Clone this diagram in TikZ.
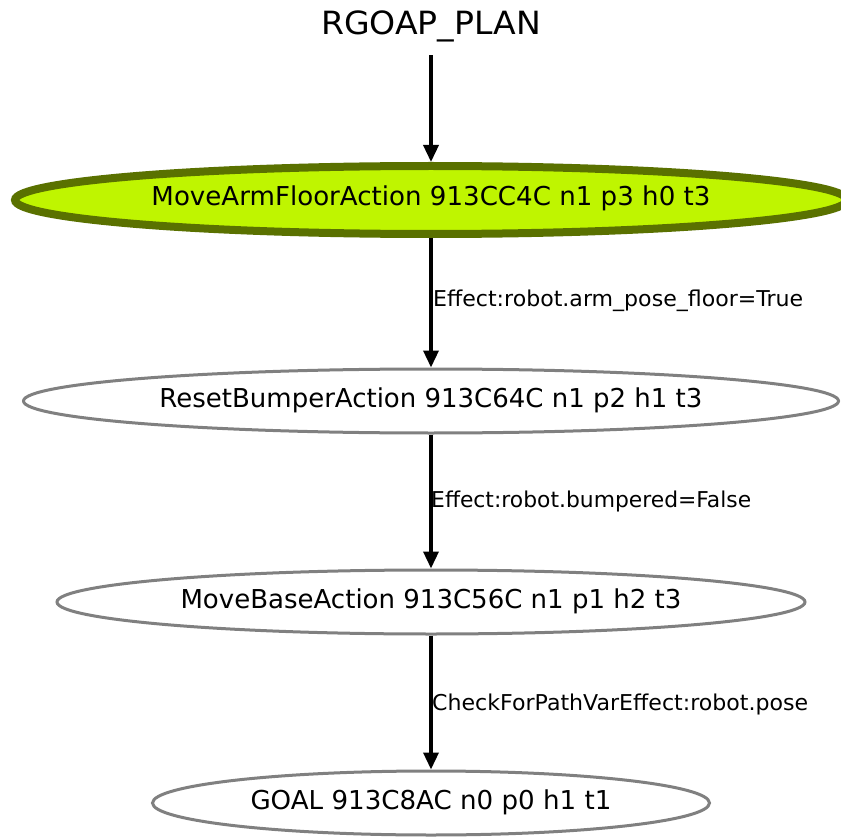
\documentclass[tikz,border=0pt]{standalone}
\usepackage{fontspec}
\setmainfont{DejaVu Sans}
\usetikzlibrary{shapes.geometric,arrows.meta}
\definecolor{limefill}{HTML}{BFF500}
\definecolor{oliveborder}{HTML}{5A7100}
\definecolor{grayborder}{HTML}{808080}
\newcommand{\ntext}[2]{\resizebox{#1}{\height}{\fontsize{26}{30}\selectfont #2}}
\newcommand{\ltext}[2]{\resizebox{#1}{\height}{\fontsize{21.8}{26}\selectfont #2}}
\begin{document}
\begin{tikzpicture}[x=1pt,y=-1pt,
  statenode/.style={ellipse, draw=grayborder, line width=3pt, fill=white, inner sep=0pt,
    text height=15pt, text depth=3pt},
  activenode/.style={statenode, draw=oliveborder, fill=limefill, line width=8pt},
  edgearrow/.style={draw=black, line width=3.5pt, -{Triangle[length=17pt,width=15pt]}},
  lbl/.style={anchor=base west, inner sep=0pt}]
\useasboundingbox (0,0) rectangle (841,837);
\clip (0,0) rectangle (841,837);
\fill[white] (0,0) rectangle (841,837);

\node[anchor=base, inner sep=0pt, text depth=0pt] (title) at (431,35)
  {\resizebox{220pt}{\height}{\fontsize{32}{38}\selectfont RGOAP\_PLAN}};

\node[activenode, minimum width=832pt, minimum height=68pt] (n1) at (431,200)
  {\ntext{559pt}{MoveArmFloorAction 913CC4C n1 p3 h0 t3}};
\node[statenode, minimum width=815pt, minimum height=64pt] (n2) at (431,401)
  {\ntext{543pt}{ResetBumperAction 913C64C n1 p2 h1 t3}};
\node[statenode, minimum width=748pt, minimum height=64pt] (n3) at (431,602)
  {\ntext{501pt}{MoveBaseAction 913C56C n1 p1 h2 t3}};
\node[statenode, minimum width=557pt, minimum height=64pt] (n4) at (431,803)
  {\ntext{361pt}{GOAL 913C8AC n0 p0 h1 t1}};

\draw[edgearrow, shorten <=20pt] (title.south) -- (n1.north);
\draw[edgearrow] (n1.south) -- (n2.north);
\draw[edgearrow] (n2.south) -- (n3.north);
\draw[edgearrow] (n3.south) -- (n4.north);

\node[lbl] (l1) at (433,307) {\ltext{370pt}{Effect:robot.arm\_pose\_floor=True}};
\node[lbl] (l2) at (431,507.5) {\ltext{320pt}{Effect:robot.bumpered=False}};
\node[lbl] (l3) at (432,710) {\ltext{376pt}{CheckForPathVarEffect:robot.pose}};
\end{tikzpicture}
\end{document}
